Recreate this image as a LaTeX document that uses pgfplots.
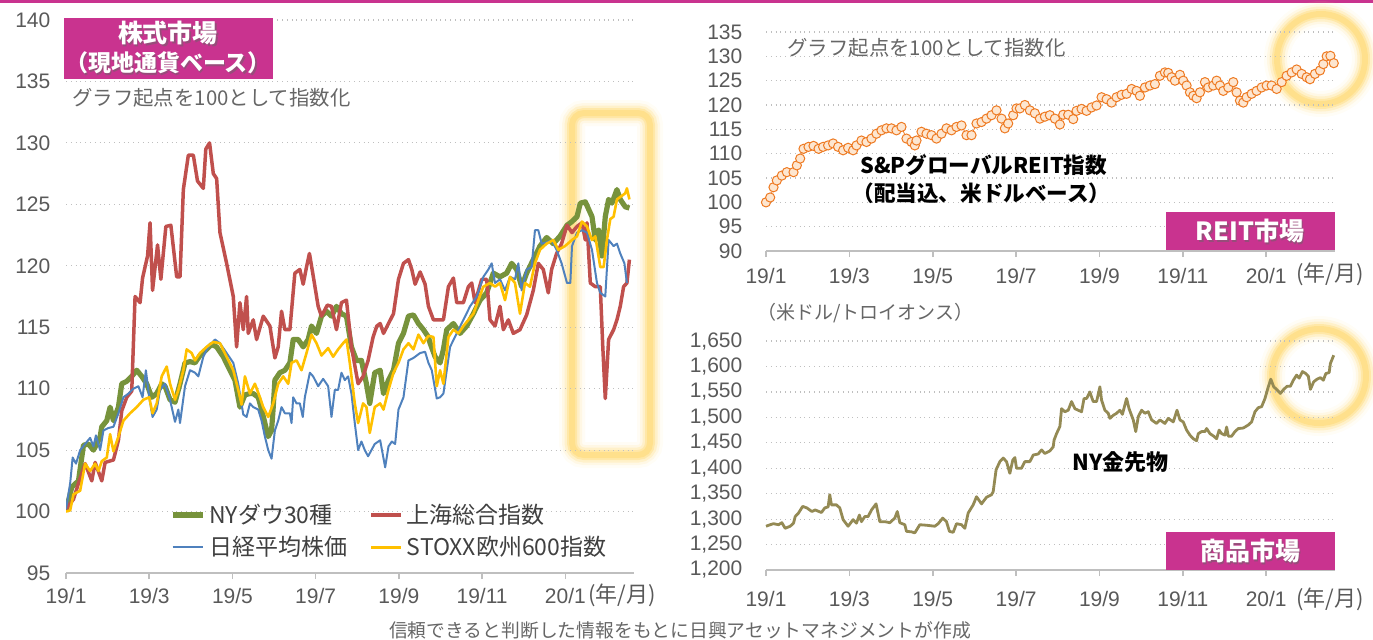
\documentclass[border=0pt]{standalone}
\usepackage{pgfplots}
\pgfplotsset{compat=1.18}
\usepackage{fontspec}
\setmainfont{Noto Sans CJK JP}
\newfontfamily\lib{Liberation Sans}
\definecolor{mag}{HTML}{C9338F}
\definecolor{tickgray}{HTML}{595959}
\definecolor{notegray}{HTML}{666666}
\definecolor{gridgray}{HTML}{BFBFBF}
\definecolor{legtext}{HTML}{404040}
\definecolor{dow}{HTML}{77933C}
\definecolor{sse}{HTML}{C0504D}
\definecolor{nik}{HTML}{4F81BD}
\definecolor{stoxx}{HTML}{FFC000}
\definecolor{reitedge}{HTML}{EE7A22}
\definecolor{reitfill}{HTML}{FDE6D0}
\definecolor{gold}{HTML}{948A54}
\definecolor{glow}{HTML}{FFE08C}
\newcommand{\fs}[1]{\fontsize{#1}{#1}\selectfont}
\pgfplotsset{base/.style={
  scale only axis, anchor=south west,
  xmin=0, xmax=13.65,
  xtick={0,2,...,12}, xticklabels={19/1,19/3,19/5,19/7,19/9,19/11,20/1},
  axis x line*=bottom, axis y line*=left,
  y axis line style={draw=none},
  x axis line style={draw=gridgray, line width=0.8pt},
  ytick style={draw=none},
  xtick style={draw=gridgray, line width=0.8pt},
  tick align=outside, major tick length=3pt,
  ymajorgrids, grid style={dotted, gridgray, line width=0.6pt},
  tick label style={font=\lib\fs{10.5}, text=tickgray},
  /pgf/number format/assume math mode=true,
  scaled y ticks=false,
}}
\begin{document}
\begin{tikzpicture}
\path[use as bounding box] (0,0) rectangle (686.5pt,-319.5pt);
\begin{scope}[x=0.5pt,y=-0.5pt]
 \fill[mag] (0,0) rectangle (1373,3);
 \fill[white, rounded corners=6pt] (572,113) rectangle (650,455);
 \foreach \w/\o in {13pt/0.08,10pt/0.16,7.5pt/0.3,5pt/0.55,3pt/1}
   \draw[glow, line width=\w, opacity=\o, rounded corners=6pt] (572,113) rectangle (650,455);
 \foreach \w/\o in {13pt/0.08,10pt/0.16,7.5pt/0.3,5pt/0.55,3pt/1}
   \draw[glow, line width=\w, opacity=\o] (1321,59) ellipse [x radius=22pt, y radius=22.5pt];
 \foreach \w/\o in {13pt/0.08,10pt/0.16,7.5pt/0.3,5pt/0.55,3pt/1}
   \draw[glow, line width=\w, opacity=\o] (1319,376) ellipse [x radius=23.5pt, y radius=23.5pt];
\end{scope}

% ---------------- left: stock markets
\begin{axis}[base, at={(33pt,-286.5pt)}, width=284pt, height=276.5pt,
  ymin=95, ymax=140, ytick={95,100,...,140},
  yticklabel style={xshift=-1.3pt}, xticklabel style={yshift=-1pt},
  legend columns=2,
  legend style={at={(0.172,0.135)}, anchor=north west, draw=none, fill=none,
    font=\fs{11.5}, text=legtext, row sep=4pt,
    nodes={inner xsep=2pt, inner ysep=0.5pt},
    /tikz/every even column/.append style={column sep=9pt}},
  legend cell align=left,
  legend image code/.code={\draw[#1] (0pt,0pt) -- (15pt,0pt);},
]
\addplot[dow, line width=2.6pt, line join=round] coordinates {
(0,100) (0.14,102) (0.30,102.5) (0.42,105.4) (0.54,105.5) (0.66,105) (0.74,105.5) (0.82,106.1) (0.86,106.9) (0.98,107.4)
(1.06,108.5) (1.14,107.4) (1.26,108.5) (1.34,110.4) (1.46,110.6) (1.58,111) (1.70,111.5) (1.82,111) (1.94,110.4) (2.06,109.3)
(2.18,109.6) (2.30,110.4) (2.38,110.2) (2.50,109.1) (2.62,108.9) (2.74,110.4) (2.86,112.1) (2.98,112.2) (3.10,112.1) (3.22,112.7)
(3.38,113.2) (3.50,113.6) (3.62,113.4) (3.78,112.6) (3.94,111.5) (4.06,110.7) (4.18,108.5) (4.30,109.5) (4.42,109.6) (4.50,109.6)
(4.62,109.3) (4.70,108.3) (4.78,107.2) (4.86,106.1) (4.94,106.6) (4.98,108.5) (5.02,110.7) (5.14,111.3) (5.26,111.5) (5.38,112.1)
(5.46,114) (5.58,114) (5.70,113.4) (5.82,114) (5.90,115.1) (6.02,114.5) (6.14,115.9) (6.26,116.3) (6.38,115.9) (6.50,116.7)
(6.62,116.1) (6.74,115.9) (6.86,113.4) (6.98,112.3) (7.10,112.3) (7.22,110.4) (7.30,108.8) (7.42,111.3) (7.55,111.5) (7.63,109.6)
(7.75,110.7) (7.87,111.5) (7.99,113.7) (8.11,114.5) (8.23,115.9) (8.35,116) (8.47,115.3) (8.59,114.8) (8.71,114.2) (8.75,113.7)
(8.87,112.6) (8.99,112.1) (9.07,113.2) (9.15,114.8) (9.31,115.3) (9.47,114.5) (9.63,115.1) (9.79,116.1) (9.95,117.2) (10.11,117.8)
(10.27,119.4) (10.43,119.1) (10.59,119.4) (10.71,120.2) (10.83,119.7) (10.95,118.3) (11.07,119.4) (11.23,120.5) (11.39,121.6) (11.55,122.3)
(11.71,121.8) (11.87,122.4) (12.04,123.3) (12.16,123.6) (12.28,124) (12.36,125.1) (12.48,125.2) (12.56,124.6) (12.64,124) (12.72,122.1)
(12.80,122.9) (12.88,120.8) (12.96,124) (13.04,125.4) (13.12,125.1) (13.24,126.2) (13.32,125.4) (13.44,124.8) (13.54,124.7)};
\addlegendentry{NYダウ30種}
\addplot[sse, line width=1.75pt, line join=round] coordinates {
(0,100.2) (0.18,101) (0.30,102.3) (0.46,103.9) (0.62,102.5) (0.70,104) (0.86,102.5) (0.94,104) (1.14,104.2) (1.26,105.8)
(1.34,108.2) (1.46,109.3) (1.58,109.8) (1.66,117.5) (1.78,117) (1.84,119) (1.96,120.8) (2.02,123.5) (2.08,118) (2.20,121.7)
(2.28,118.9) (2.40,123.2) (2.52,123.3) (2.66,119.1) (2.74,119.1) (2.82,126.2) (2.94,129) (3.06,129) (3.16,126.9) (3.30,126.3)
(3.36,129.5) (3.45,130) (3.54,127.5) (3.62,127.1) (3.70,122.7) (3.86,120.2) (4.02,117.5) (4.10,113.4) (4.18,117) (4.26,114.8)
(4.34,117.5) (4.38,114.5) (4.50,115.6) (4.58,114) (4.74,115.9) (4.90,115.1) (5.02,112.5) (5.10,113.4) (5.18,116.3) (5.26,114.8)
(5.38,114.8) (5.50,119.4) (5.62,119.7) (5.70,118.5) (5.78,119.9) (5.85,121) (5.93,119.4) (6.06,116.7) (6.14,115.9) (6.28,116.8)
(6.38,116.7) (6.50,114.8) (6.62,117) (6.74,117.2) (6.86,113.4) (7.02,110.4) (7.14,111) (7.26,112.3) (7.38,114.2) (7.47,115.1)
(7.55,115.3) (7.63,114.5) (7.75,115.3) (7.87,116.1) (7.99,118.9) (8.11,120.2) (8.23,120.5) (8.31,119.7) (8.39,118.5) (8.51,119.5)
(8.63,118.5) (8.71,116.7) (8.83,115.6) (9.07,115.6) (9.19,118.3) (9.31,119) (9.39,117) (9.55,117) (9.67,118.3) (9.75,118.6)
(9.83,117) (9.99,118.9) (10.11,118.9) (10.19,115.6) (10.31,115.1) (10.43,116.7) (10.51,114.8) (10.63,115.6) (10.75,114.5) (10.91,114.8)
(11.07,116) (11.23,118) (11.35,120.2) (11.47,119.7) (11.59,117.8) (11.67,119.7) (11.79,121) (11.91,121.8) (12.04,123.3) (12.16,122.7)
(12.28,123.2) (12.40,123.5) (12.48,122.1) (12.52,123.5) (12.60,118.6) (12.72,118.3) (12.84,118.3) (12.90,113.4) (12.96,109.2) (13.04,114)
(13.16,114.8) (13.24,115.6) (13.32,116.7) (13.40,118.3) (13.48,118.6) (13.54,120.5)};
\addlegendentry{上海総合指数}
\addplot[nik, line width=1pt, line join=round] coordinates {
(0,100.2) (0.10,102.3) (0.16,104.4) (0.24,103.9) (0.34,105) (0.46,105.5) (0.58,106) (0.66,105.3) (0.72,106.2) (0.82,105)
(0.90,106.6) (1.02,106.8) (1.14,106.9) (1.26,108) (1.38,109.3) (1.50,109.6) (1.62,110) (1.74,110.2) (1.84,109.3) (1.92,111.5)
(2.00,109.3) (2.08,107.7) (2.18,108.3) (2.26,109.9) (2.38,110.4) (2.50,109.1) (2.62,107.3) (2.70,108.3) (2.74,107.2) (2.86,110.2)
(2.98,111.5) (3.10,111.3) (3.18,111) (3.30,112.6) (3.42,113.4) (3.58,114) (3.70,113.7) (3.86,112.9) (4.02,112.1) (4.14,110.4)
(4.26,107.9) (4.34,107.7) (4.42,108.8) (4.50,108.5) (4.62,108.3) (4.70,107.4) (4.78,106.1) (4.86,105) (4.94,104.3) (5.02,106.6)
(5.10,107.4) (5.18,108.5) (5.26,108) (5.38,108) (5.42,107.2) (5.46,109.3) (5.54,108.8) (5.62,108.8) (5.69,107.7) (5.74,109.3)
(5.86,111.3) (5.94,111) (6.06,110.2) (6.18,110.8) (6.30,110.2) (6.38,107.7) (6.46,109.9) (6.54,109.9) (6.62,111.3) (6.70,110.7)
(6.78,111) (6.86,109.6) (6.94,107.2) (7.02,105) (7.10,105.7) (7.18,105) (7.26,104.5) (7.34,105) (7.42,105.5) (7.55,105.8)
(7.67,103.6) (7.75,105.3) (7.83,105.7) (7.91,105.5) (7.99,108.3) (8.11,109.3) (8.23,112.3) (8.35,112.5) (8.51,112.9) (8.63,113)
(8.71,112.1) (8.79,111.5) (8.91,109.2) (8.99,109.3) (9.07,109.6) (9.15,111.5) (9.23,113.4) (9.39,114.5) (9.55,115.6) (9.71,116.7)
(9.87,117.5) (10.03,119.1) (10.15,119.7) (10.23,120.2) (10.31,118.6) (10.43,118.9) (10.55,118) (10.67,119.1) (10.79,118.9) (10.87,120.2)
(10.95,118) (11.07,119.7) (11.19,119.9) (11.27,122.9) (11.35,122.9) (11.43,121.8) (11.55,121.9) (11.67,122.1) (11.79,121.3) (11.91,120.2)
(12.04,118.6) (12.12,118.6) (12.16,121.6) (12.28,122.7) (12.40,122.9) (12.52,122.7) (12.64,121.3) (12.76,118.6) (12.84,117.8) (12.96,117.5)
(13.04,122.1) (13.16,121.6) (13.24,121.8) (13.32,121) (13.42,120.2) (13.48,118.6)};
\addlegendentry{日経平均株価}
\addplot[stoxx, line width=1.3pt, line join=round] coordinates {
(0,100) (0.10,100.1) (0.18,101.4) (0.34,101.7) (0.46,103.9) (0.58,103.3) (0.70,103.9) (0.78,103.3) (0.86,104.1) (0.98,104.4)
(1.06,106.3) (1.14,104.9) (1.26,106.1) (1.38,107.4) (1.54,108) (1.70,108.5) (1.86,109.1) (2.00,109.3) (2.08,108) (2.18,108.8)
(2.30,111) (2.42,111.8) (2.50,110.4) (2.62,109.1) (2.70,109.9) (2.82,111.5) (2.90,113.2) (3.02,112.9) (3.10,112.3) (3.22,112.9)
(3.38,113.4) (3.54,113.8) (3.70,113.7) (3.86,112.6) (4.02,111.5) (4.14,109.9) (4.22,108.7) (4.30,111) (4.42,109.6) (4.54,110.4)
(4.66,109.3) (4.74,108.5) (4.86,107.7) (4.98,108.8) (5.10,110.4) (5.22,111) (5.34,110.4) (5.42,112.1) (5.54,112.3) (5.66,111.5)
(5.78,112.9) (5.90,114.4) (6.02,113.7) (6.14,112.7) (6.30,113.3) (6.42,112.6) (6.54,113.2) (6.66,113.7) (6.74,114) (6.82,112.1)
(6.94,108.8) (7.02,107.2) (7.14,108.8) (7.22,108.5) (7.30,106.4) (7.42,108.5) (7.55,108.8) (7.63,108.3) (7.75,109.9) (7.87,111.3)
(7.99,112.1) (8.11,113.2) (8.23,113.7) (8.35,113.2) (8.47,114.4) (8.59,113.7) (8.71,114.3) (8.83,114.2) (8.91,110.2) (8.99,111.5)
(9.07,110.4) (9.19,114.2) (9.31,114.8) (9.43,114.5) (9.55,115.1) (9.67,115.6) (9.79,116.1) (9.91,117.2) (10.03,118.3) (10.19,118.6)
(10.31,118.3) (10.43,118.6) (10.55,117.2) (10.67,119.1) (10.79,118.6) (10.91,116.1) (11.03,118.6) (11.15,118.3) (11.27,120.2) (11.39,121.3)
(11.55,121.8) (11.71,122.1) (11.83,121.3) (11.99,121.6) (12.16,122.1) (12.28,122.4) (12.40,123.6) (12.52,123.2) (12.64,122.1) (12.72,122.4)
(12.84,119.9) (12.92,119.9) (13.00,122.1) (13.08,123.8) (13.16,124) (13.24,125.4) (13.36,125.7) (13.44,125.9) (13.48,126.3) (13.54,125.4)};
\addlegendentry{STOXX欧州600指数}
\end{axis}

% ---------------- top right: REIT
\begin{axis}[base, at={(383pt,-125.5pt)}, width=284.5pt, height=109.5pt,
  ymin=90, ymax=135, ytick={90,95,...,135},
  yticklabel style={xshift=-5.3pt}, xticklabel style={yshift=-2pt}, clip=false]
\addplot[reitedge, line width=0.4pt, mark=*, mark size=2.3pt,
  mark options={draw=reitedge, fill=reitfill, line width=0.5pt}] coordinates {
(0,100) (0.10,101) (0.18,103.1) (0.26,104.5) (0.38,105.5) (0.50,106.2) (0.66,106.2) (0.74,107.6) (0.82,109) (0.90,111)
(1.02,111.4) (1.14,111.6) (1.26,111) (1.37,111.4) (1.49,111.7) (1.61,112.1) (1.73,111.4) (1.85,110.7) (1.97,111.2) (2.09,110.7)
(2.17,111.7) (2.29,112.7) (2.41,112.4) (2.53,113.1) (2.65,114.1) (2.77,114.8) (2.89,115.2) (3.01,115.2) (3.13,114.8) (3.25,115.5)
(3.37,113.1) (3.49,112.4) (3.57,111.7) (3.61,112.7) (3.73,114.5) (3.85,114.1) (3.97,113.8) (4.09,113.1) (4.21,114.1) (4.33,115.2)
(4.45,114.8) (4.57,115.5) (4.69,115.8) (4.81,113.8) (4.93,113.8) (5.05,116.2) (5.17,116.5) (5.29,117.2) (5.41,117.9) (5.53,118.9)
(5.65,117.2) (5.73,115.2) (5.81,116.2) (5.93,117.9) (6.01,119.3) (6.09,119.3) (6.21,120) (6.33,118.9) (6.45,118.3) (6.57,117.2)
(6.69,117.6) (6.81,117.9) (6.93,117.2) (7.05,116) (7.13,118) (7.25,118) (7.37,117.1) (7.45,118.8) (7.57,119.2) (7.69,118.8)
(7.81,119.5) (7.93,119.9) (8.05,121.6) (8.17,121.2) (8.29,120.5) (8.41,121.6) (8.53,122.1) (8.65,122.3) (8.77,123.3) (8.89,122.9)
(8.97,121.9) (9.09,123.6) (9.21,124) (9.33,124.3) (9.45,126) (9.57,126.7) (9.65,126.6) (9.73,125.7) (9.81,125) (9.93,126.2)
(10.01,125) (10.09,124) (10.17,122.6) (10.25,121.9) (10.33,121.4) (10.41,122.6) (10.53,124.7) (10.61,123.6) (10.73,124) (10.81,125)
(10.89,124) (10.97,122.9) (11.09,123.6) (11.21,124.7) (11.29,122.6) (11.37,120.9) (11.45,120.5) (11.53,121.6) (11.65,122.3) (11.77,122.9)
(11.89,123.6) (12.01,124) (12.13,124) (12.25,123.3) (12.37,124.7) (12.49,126) (12.61,126.7) (12.73,127.3) (12.85,126.4) (12.97,125.7)
(13.05,125.3) (13.17,126.4) (13.29,127.1) (13.37,128.4) (13.45,130) (13.54,130.1) (13.62,128.6)};
\end{axis}

% ---------------- bottom right: gold
\begin{axis}[base, at={(383pt,-285pt)}, width=284.5pt, height=114.5pt,
  ymin=1200, ymax=1650, ytick={1200,1250,...,1650},
  /pgf/number format/1000 sep={,},
  yticklabel style={xshift=-5.3pt}, xticklabel style={yshift=-4pt}, clip=false]
\addplot[gold, line width=1.4pt, line join=round] coordinates {
(0,1286) (0.10,1289) (0.18,1291) (0.30,1289) (0.38,1293) (0.46,1282) (0.58,1286) (0.66,1292) (0.70,1305) (0.78,1312)
(0.88,1325) (0.98,1322) (1.10,1315) (1.18,1318) (1.33,1313) (1.41,1322) (1.49,1324) (1.53,1348) (1.57,1328) (1.69,1328)
(1.77,1322) (1.85,1299) (1.97,1286) (2.09,1299) (2.17,1292) (2.24,1308) (2.29,1295) (2.37,1305) (2.45,1305) (2.53,1318)
(2.64,1330) (2.73,1295) (2.85,1295) (2.97,1293) (3.09,1302) (3.15,1315) (3.21,1293) (3.33,1289) (3.37,1276) (3.49,1275)
(3.57,1273) (3.69,1289) (3.85,1288) (4.05,1286) (4.13,1291) (4.24,1302) (4.33,1295) (4.40,1276) (4.49,1274) (4.57,1291)
(4.69,1289) (4.77,1282) (4.85,1312) (4.97,1328) (5.05,1344) (5.17,1330) (5.29,1343) (5.41,1348) (5.45,1354) (5.52,1397)
(5.61,1413) (5.69,1420) (5.77,1413) (5.85,1390) (5.92,1416) (5.97,1421) (6.01,1400) (6.13,1400) (6.21,1413) (6.33,1413)
(6.41,1426) (6.53,1428) (6.61,1436) (6.69,1429) (6.81,1434) (6.89,1442) (6.91,1455) (6.97,1468) (7.05,1482) (7.09,1517)
(7.17,1511) (7.25,1514) (7.33,1531) (7.41,1517) (7.49,1514) (7.57,1511) (7.63,1537) (7.69,1537) (7.77,1550) (7.81,1540)
(7.85,1531) (7.93,1531) (8.01,1560) (8.05,1534) (8.13,1514) (8.21,1508) (8.25,1498) (8.33,1504) (8.41,1508) (8.49,1514)
(8.55,1506) (8.65,1537) (8.71,1517) (8.81,1495) (8.87,1472) (8.93,1501) (9.01,1514) (9.09,1508) (9.17,1511) (9.25,1495)
(9.37,1488) (9.45,1495) (9.57,1488) (9.65,1498) (9.77,1491) (9.86,1514) (9.93,1495) (10.01,1491) (10.09,1475) (10.17,1465)
(10.25,1458) (10.33,1454) (10.37,1468) (10.45,1472) (10.53,1472) (10.57,1478) (10.65,1468) (10.74,1463) (10.81,1458) (10.87,1475)
(10.93,1468) (11.01,1465) (11.05,1481) (11.09,1463) (11.17,1463) (11.25,1472) (11.33,1478) (11.45,1479) (11.57,1485) (11.65,1491)
(11.73,1511) (11.81,1519) (11.89,1521) (11.97,1537) (12.05,1560) (12.11,1575) (12.18,1560) (12.26,1554) (12.34,1547) (12.42,1555)
(12.50,1561) (12.58,1561) (12.65,1573) (12.73,1583) (12.79,1577) (12.87,1590) (12.95,1586) (13.01,1581) (13.06,1555) (13.14,1570)
(13.22,1575) (13.30,1578) (13.37,1573) (13.43,1586) (13.51,1588) (13.54,1606) (13.62,1622)};
\end{axis}

% ---------------- text
\begin{scope}[x=0.5pt,y=-0.5pt]
 \fill[mag] (64,18) rectangle (273,79);
 \node[text=black!60, opacity=0.5, font=\bfseries\fs{12.5}] at (169.5,34.5) {株式市場};
 \node[text=white, font=\bfseries\fs{12.5}] at (168,33) {株式市場};
 \node[text=black!60, opacity=0.5, font=\bfseries\fs{11.5}] at (169.5,64.5) {（現地通貨ベース）};
 \node[text=white, font=\bfseries\fs{11.5}] at (168,63) {（現地通貨ベース）};
 \node[anchor=west, inner sep=0pt, text=notegray, font=\fs{10.2}] at (72,98) {グラフ起点を100として指数化};
 \node[anchor=west, inner sep=0pt, text=tickgray, font=\fs{11}] at (588,595) {(年/月)};

 \node[anchor=west, inner sep=0pt, text=notegray, font=\fs{10.2}] at (787,48) {グラフ起点を100として指数化};
 \node[anchor=west, inner sep=0pt, text=black, font=\bfseries\fs{10.8}] at (860,165) {S\&PグローバルREIT指数};
 \node[anchor=west, inner sep=0pt, text=black, font=\bfseries\fs{10.8}] at (852,193) {（配当込、米ドルベース）};
 \fill[mag] (1166,212) rectangle (1335,250);
 \node[text=black!60, opacity=0.5, font=\bfseries\fs{12.5}] at (1251.5,232.5) {REIT市場};
 \node[text=white, font=\bfseries\fs{12.5}] at (1250,231) {REIT市場};
 \node[anchor=west, inner sep=0pt, text=tickgray, font=\fs{11}] at (1296,274) {(年/月)};

 \node[anchor=west, inner sep=0pt, text=notegray, font=\fs{9.5}] at (757,313) {（米ドル/トロイオンス）};
 \node[anchor=west, inner sep=0pt, text=black, font=\bfseries\fs{11}] at (1072,462) {NY金先物};
 \fill[mag] (1166,532) rectangle (1335,570);
 \node[text=black!60, opacity=0.5, font=\bfseries\fs{12.5}] at (1251.5,552.5) {商品市場};
 \node[text=white, font=\bfseries\fs{12.5}] at (1250,551) {商品市場};
 \node[anchor=west, inner sep=0pt, text=tickgray, font=\fs{11}] at (1296,599) {(年/月)};

 \node[text=notegray, font=\fs{9.4}] at (680,630) {信頼できると判断した情報をもとに日興アセットマネジメントが作成};
\end{scope}
\end{tikzpicture}
\end{document}
